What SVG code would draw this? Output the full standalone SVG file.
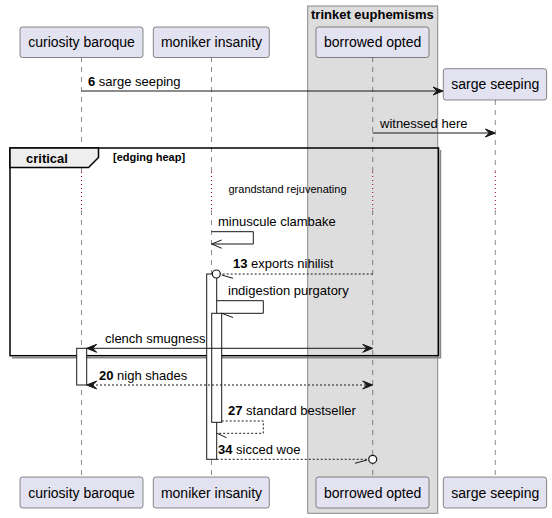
<svg xmlns="http://www.w3.org/2000/svg" width="552" height="518" viewBox="0 0 552 518">
<style>
text{font-family:"Liberation Sans",Arial,sans-serif;fill:#000}
.pbox{fill:#E2E2F0;stroke:#181818;stroke-width:0.5}
.pname{font-size:14px;text-anchor:middle}
.msg{font-size:13px}
.b{font-weight:bold}
.life{stroke:#181818;stroke-width:0.5;stroke-dasharray:5,5;fill:none}
.dot{stroke:#A80036;stroke-width:1;stroke-dasharray:1,3;fill:none}
.act{fill:#fff;stroke:#181818;stroke-width:1}
.ln{stroke:#181818;stroke-width:1;fill:none}
.dash{stroke:#181818;stroke-width:1;fill:none;stroke-dasharray:2,2}
.head{fill:#181818;stroke:#181818;stroke-width:1}
</style>
<defs>
<polygon id="ahR" class="head" points="0,0 -10,-4 -6,0 -10,4"/>
<polygon id="ahL" class="head" points="0,0 10,-4 6,0 10,4"/>
</defs>
<g id="group-trinket">
<rect x="307.7" y="6" width="130" height="507.3" fill="#DDDDDD" stroke="#888888" stroke-width="1"/>
<text x="311" y="18.5" class="msg b">trinket euphemisms</text>
</g>
<g id="lifelines">
<path class="life" d="M81.5,57V172M81.5,210V477"/>
<path class="life" d="M211.5,57V172M211.5,210V477"/>
<path class="life" d="M372.7,57V172M372.7,210V477"/>
<path class="life" d="M495.3,100V172M495.3,210V477"/>
<path class="dot" d="M81.5,172V210M211.5,172V210M372.7,172V210M495.3,172V210"/>
</g>
<g id="critical-frame">
<polyline points="440.5,150 440.5,357.7 12,357.7" fill="none" stroke="#888" stroke-width="1.5"/>
<rect x="10" y="148" width="428.5" height="207.7" fill="none" stroke="#000" stroke-width="1.5"/>
<polygon points="10,148 98.5,148 98.5,157.5 88.5,167.5 10,167.5" fill="#EEEEEE" stroke="#000" stroke-width="1.5"/>
<text x="26" y="163" class="msg b">critical</text>
<text x="113" y="161" class="b" style="font-size:11px">[edging heap]</text>
</g>
<g id="delay">
<text x="287.5" y="193" text-anchor="middle" style="font-size:11px">grandstand rejuvenating</text>
</g>
<g id="activations">
<rect class="act" x="76.7" y="348.3" width="10" height="36.7"/>
<rect class="act" x="206.7" y="274" width="10" height="185.3"/>
<rect class="act" x="211.7" y="313.3" width="10" height="109"/>
</g>
<g id="connectors">
<line class="ln" x1="81.5" y1="91" x2="442" y2="91"/>
<use href="#ahR" x="443" y="91"/>
<text x="88" y="86" class="msg"><tspan class="b">6</tspan> sarge seeping</text>

<line class="ln" x1="372.7" y1="133" x2="494" y2="133"/>
<use href="#ahR" x="495.3" y="133"/>
<text x="380" y="128" class="msg">witnessed here</text>

<polyline class="ln" points="211.5,231.7 253.3,231.7 253.3,244 212,244"/>
<polyline class="ln" points="221.7,240 211.7,244 221.7,248.3"/>
<text x="218" y="226" class="msg">minuscule clambake</text>

<line class="dash" x1="372.7" y1="274" x2="220.5" y2="274"/>
<circle cx="216.3" cy="274" r="4" fill="#fff" stroke="#181818" stroke-width="1.2"/>
<line class="ln" x1="221.7" y1="275" x2="233" y2="278.3"/>
<text x="233" y="268" class="msg"><tspan class="b">13</tspan> exports nihilist</text>

<polyline class="ln" points="216.7,300.7 263.3,300.7 263.3,313.3 221.7,313.3"/>
<line class="ln" x1="221.7" y1="313.3" x2="233" y2="317.5"/>
<text x="228" y="295" class="msg">indigestion purgatory</text>

<line class="ln" x1="88" y1="348.3" x2="371" y2="348.3"/>
<use href="#ahL" x="86.7" y="348.3"/>
<use href="#ahR" x="372.7" y="348.3"/>
<text x="105" y="343" class="msg">clench smugness</text>

<line class="dash" x1="88" y1="385" x2="371" y2="385"/>
<use href="#ahL" x="86.7" y="385"/>
<use href="#ahR" x="372.7" y="385"/>
<text x="99" y="380" class="msg"><tspan class="b">20</tspan> nigh shades</text>

<polyline class="dash" points="221.7,421 263.3,421 263.3,433.3 216.7,433.3"/>
<line class="ln" x1="217" y1="433.3" x2="226.5" y2="437.7"/>
<text x="228" y="415" class="msg"><tspan class="b">27</tspan> standard bestseller</text>

<line class="dash" x1="216.7" y1="459.3" x2="368.5" y2="459.3"/>
<circle cx="372.7" cy="459.3" r="4" fill="#fff" stroke="#181818" stroke-width="1.2"/>
<line class="ln" x1="367" y1="460" x2="355" y2="463.3"/>
<text x="218" y="454" class="msg"><tspan class="b">34</tspan> sicced woe</text>
</g>
<g id="p-curiosity-baroque">
<rect class="pbox" x="20" y="27" width="123" height="30.5" rx="2.5"/>
<text class="pname" x="81.5" y="47">curiosity baroque</text>
<rect class="pbox" x="20" y="477" width="123" height="31" rx="2.5"/>
<text class="pname" x="81.5" y="497.5">curiosity baroque</text>
</g>
<g id="p-moniker-insanity">
<rect class="pbox" x="153.3" y="27" width="116" height="30.5" rx="2.5"/>
<text class="pname" x="211.5" y="47">moniker insanity</text>
<rect class="pbox" x="153.3" y="477" width="116" height="31" rx="2.5"/>
<text class="pname" x="211.5" y="497.5">moniker insanity</text>
</g>
<g id="p-borrowed-opted">
<rect class="pbox" x="316" y="27" width="113" height="30.5" rx="2.5"/>
<text class="pname" x="372.7" y="47">borrowed opted</text>
<rect class="pbox" x="316" y="477" width="113" height="31" rx="2.5"/>
<text class="pname" x="372.7" y="497.5">borrowed opted</text>
</g>
<g id="p-sarge-seeping">
<rect class="pbox" x="443.3" y="68.7" width="103.3" height="31.3" rx="2.5"/>
<text class="pname" x="495.3" y="89">sarge seeping</text>
<rect class="pbox" x="443.3" y="477" width="103.3" height="31" rx="2.5"/>
<text class="pname" x="495.3" y="497.5">sarge seeping</text>
</g>
</svg>
